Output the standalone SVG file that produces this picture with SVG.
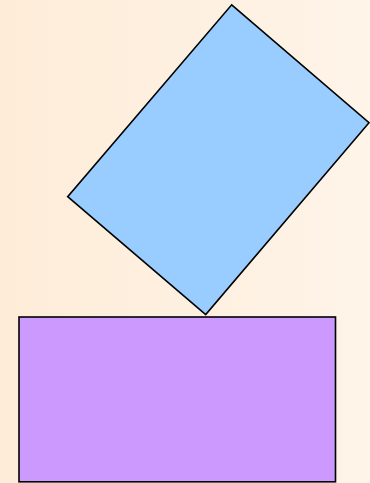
<svg xmlns="http://www.w3.org/2000/svg" width="370" height="483" viewBox="0 0 370 483">
<defs>
<linearGradient id="bg" x1="0" y1="0" x2="1" y2="0">
<stop offset="0" stop-color="#feecd8"/>
<stop offset="1" stop-color="#fef4e8"/>
</linearGradient>
</defs>
<style>.s{stroke:#000;stroke-width:1.6;stroke-linejoin:miter}</style>
<rect x="0" y="0" width="370" height="483" fill="url(#bg)"/>
<g id="blue"><polygon class="s" points="231.7,4.8 369,122.7 205.7,314.5 67.7,196.7" fill="#99ccff"/></g>
<g id="purple"><rect class="s" x="19" y="317" width="316.5" height="164.8" fill="#cc99ff"/></g>
</svg>
